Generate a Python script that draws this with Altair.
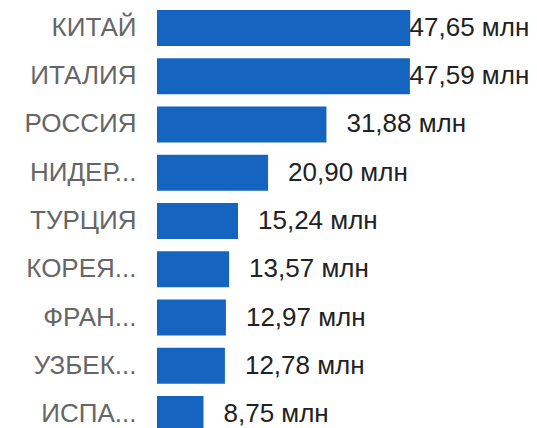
import altair as alt
import pandas as pd

countries = ["КИТАЙ", "ИТАЛИЯ", "РОССИЯ", "НИДЕР...", "ТУРЦИЯ", "КОРЕЯ...", "ФРАН...", "УЗБЕК...", "ИСПА..."]
values = [47.65, 47.59, 31.88, 20.90, 15.24, 13.57, 12.97, 12.78, 8.75]
labels = ["47,65 млн", "47,59 млн", "31,88 млн", "20,90 млн", "15,24 млн", "13,57 млн", "12,97 млн", "12,78 млн", "8,75 млн"]

XMAX = 69.3
CLAMP_AT = 40

df = pd.DataFrame({"country": countries, "value": values, "label": labels})

FONT = "Liberation Sans"
FS = 26
y = alt.Y("country:N", sort=countries, title=None,
          scale=alt.Scale(range=[0, 426], paddingInner=0.255, paddingOuter=0.04),
          axis=alt.Axis(domain=False, ticks=False, labelPadding=21, labelFontSize=FS,
                        labelFont=FONT, labelColor="#666666", labelLimit=200))
x = alt.X("value:Q", title=None, scale=alt.Scale(domain=[0, XMAX]), axis=None)

base = alt.Chart(df)
bars = base.mark_bar(color="#1565c0", clip=True).encode(x=x, y=y)
txt_normal = base.transform_filter(alt.datum.value < CLAMP_AT).mark_text(
    align="left", baseline="middle", dx=20, fontSize=FS, font=FONT, color="#222222", clip=True
).encode(x=x, y=y, text="label:N")
txt_clamped = base.transform_filter(alt.datum.value >= CLAMP_AT).mark_text(
    align="right", baseline="middle", dx=4, fontSize=FS, font=FONT, color="#222222"
).encode(x=alt.datum(XMAX), y=y, text="label:N")

chart = alt.layer(bars, txt_normal, txt_clamped).properties(
    width=372, height=420,
    autosize=alt.AutoSizeParams(type="none"),
    padding={"left": 149, "top": 0, "right": 0, "bottom": 0},
).configure_view(stroke=None)

chart.save("out.html", embed_options={"renderer": "svg", "actions": False})
